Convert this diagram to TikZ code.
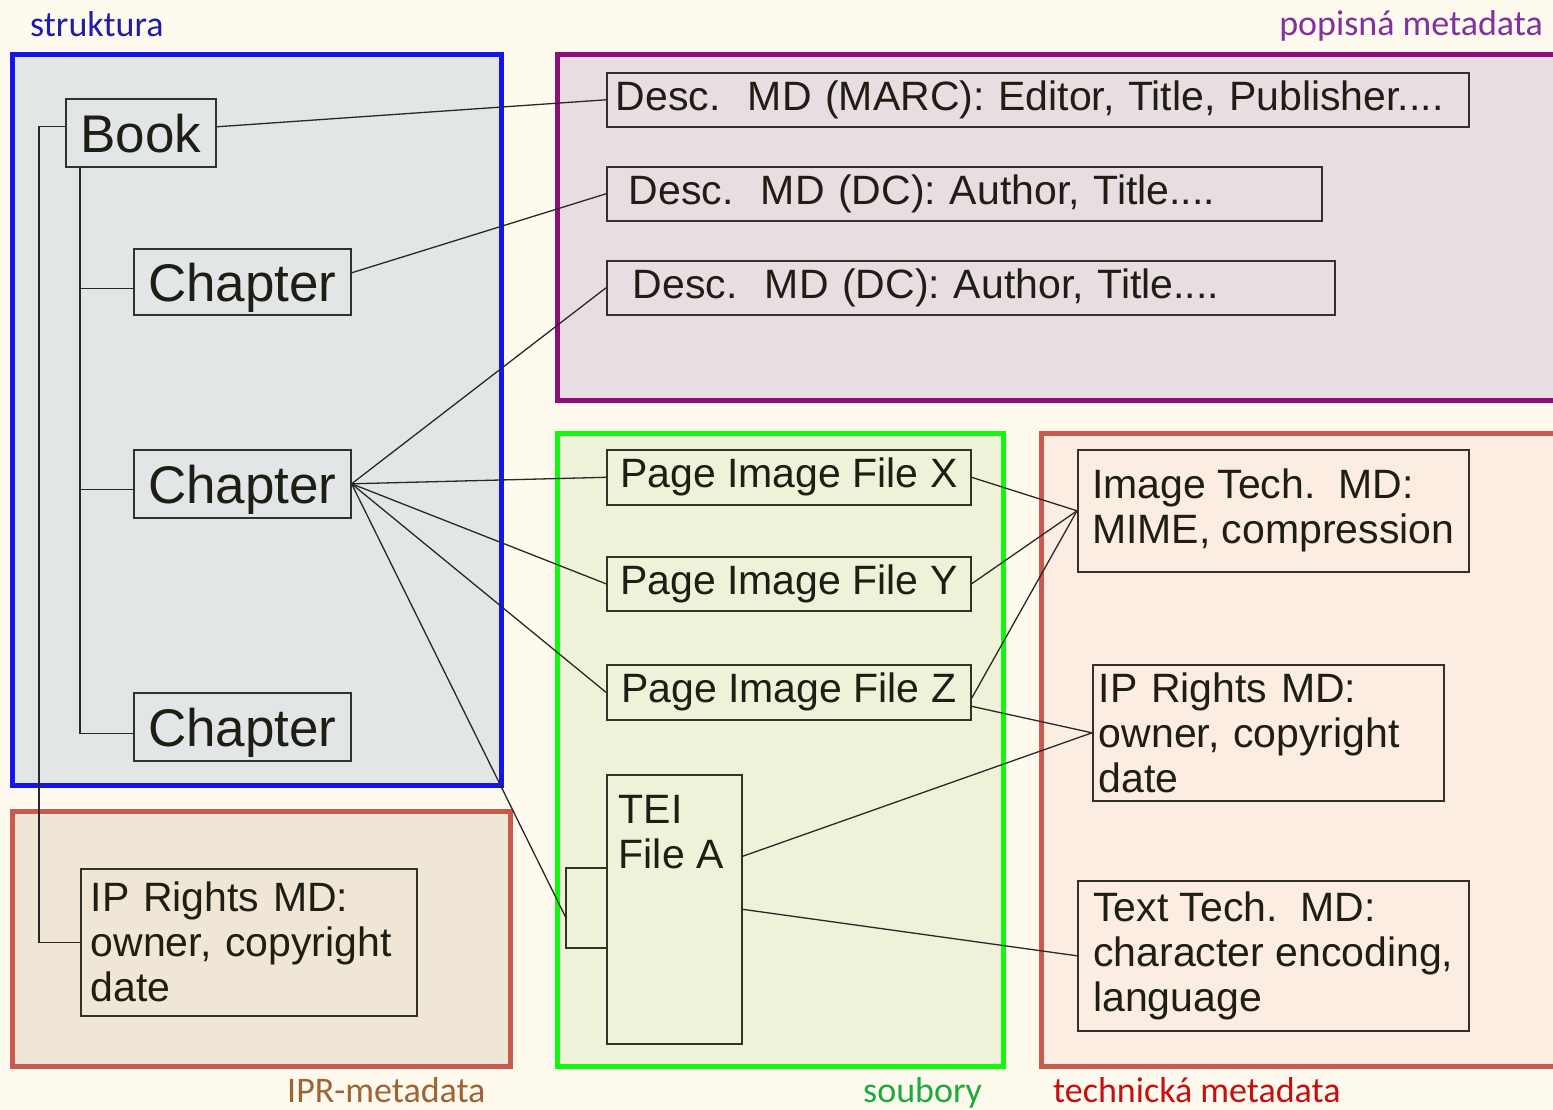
\documentclass[tikz,border=0pt]{standalone}
\usepackage{fontspec}
\setmainfont{Liberation Sans}
\newfontfamily\labelfamily{Carlito}
\usepackage{xcolor}
\definecolor{bgcream}{RGB}{254, 250, 238}
\definecolor{strukframe}{RGB}{20, 20, 235}
\definecolor{strukfill}{RGB}{226, 230, 230}
\definecolor{popisframe}{RGB}{140, 15, 120}
\definecolor{popisfill}{RGB}{232, 222, 226}
\definecolor{souborframe}{RGB}{15, 250, 10}
\definecolor{souborfill}{RGB}{238, 242, 216}
\definecolor{techframe}{RGB}{200, 90, 78}
\definecolor{techfill}{RGB}{252, 237, 226}
\definecolor{iprfill}{RGB}{240, 230, 214}
\definecolor{strukturatext}{RGB}{30, 30, 170}
\definecolor{popistext}{RGB}{128, 50, 160}
\definecolor{iprtext}{RGB}{160, 100, 50}
\definecolor{souborytext}{RGB}{30, 170, 60}
\definecolor{techtext}{RGB}{200, 15, 15}
\definecolor{boxline}{RGB}{50, 50, 40}
\definecolor{boxtext}{RGB}{30, 30, 20}
\definecolor{linkgray}{RGB}{40, 40, 40}
\newcommand{\mdtextfont}{\fontsize{41}{45}\selectfont}
\newcommand{\treefont}{\fontsize{53}{56}\selectfont}
\newcommand{\areafont}{\labelfamily\fontsize{36}{40}\selectfont}

\begin{document}
\begin{tikzpicture}[x=1pt, y=-1pt,
    area/.style={line width=5pt},
    treebox/.style={draw=boxline, line width=1.6pt, anchor=north west, font=\treefont, text=boxtext, text depth=0pt, inner sep=0pt},
    mdbox/.style={draw=boxline, line width=1.6pt, anchor=north west, align=left, font=\mdtextfont, text=boxtext, inner ysep=0pt},
    link/.style={draw=linkgray, line width=1.3pt},
    arealabel/.style={font=\areafont, inner sep=0pt}]
    \useasboundingbox (0,0) rectangle (1553,1110);
    \fill[bgcream] (0,0) rectangle (1553,1110);

    % areas
    \filldraw[area, draw=strukframe, fill=strukfill] (12,55) rectangle (501,785);
    \filldraw[area, draw=popisframe, fill=popisfill] (557,55) rectangle (1565,400);
    \filldraw[area, draw=souborframe, fill=souborfill] (557,433) rectangle (1003,1066);
    \filldraw[area, draw=techframe, fill=techfill] (1041,433) rectangle (1565,1066);
    \filldraw[area, draw=techframe, fill=iprfill] (12,811) rectangle (510,1066);

    \node[arealabel, text=strukturatext, anchor=base west] (lstruktura) at (30,37) {struktura};
    \node[arealabel, text=popistext, anchor=base east] (lpopis) at (1543,36) {popisná metadata};
    \node[arealabel, text=iprtext, anchor=base west] (lipr) at (287,1102) {IPR-metadata};
    \node[arealabel, text=souborytext, anchor=base west] (lsoubory) at (863,1102) {soubory};
    \node[arealabel, text=techtext, anchor=base west] (ltech) at (1053,1102) {technická metadata};

    % structure
    \node[treebox, minimum width=150pt, minimum height=68pt] (book) at (65,98) {Book};
    \node[treebox, minimum width=217pt, minimum height=66pt] (chA) at (133,248) {Chapter};
    \node[treebox, minimum width=217pt, minimum height=68pt] (chB) at (133,449) {Chapter};
    \node[treebox, minimum width=217pt, minimum height=68pt] (chC) at (133,692) {Chapter};

    % descriptive metadata
    \node[mdbox, inner xsep=9pt, text width=844pt, minimum height=54pt] (marc) at (606,72) {Desc.\ \ MD (MARC): Editor, Title, Publisher....};
    \node[mdbox, inner xsep=22pt, text width=671pt, minimum height=54pt] (dcA) at (606,166) {Desc.\ \ MD (DC): Author, Title....};
    \node[mdbox, inner xsep=26pt, text width=676pt, minimum height=54pt] (dcB) at (606,260) {Desc.\ \ MD (DC): Author, Title....};

    % files
    \node[mdbox, minimum width=364pt, minimum height=55pt] (fileX) at (606,449) {Page Image File X};
    \node[mdbox, minimum width=364pt, minimum height=54pt] (fileY) at (606,556) {Page Image File Y};
    \node[mdbox, minimum width=364pt, minimum height=55pt] (fileZ) at (606,664) {Page Image File Z};
    \node[mdbox, inner xsep=12pt, inner ysep=20pt, minimum height=269pt] (tei) at (606,774) {\parbox[t][229pt][t]{111pt}{\raggedright TEI\\File A}};
    \coordinate (teitab) at (566,918);
    \draw[boxline, line width=1.6pt] (606,868) -- (566,868) -- (566,948) -- (606,948);

    % technical and rights metadata
    \node[mdbox, minimum width=391pt, minimum height=122pt] (imgtech) at (1077,449) {Image Tech.\ \ MD:\\MIME, compression};
    \node[mdbox, inner xsep=6pt, text width=339pt, minimum height=136pt] (iprR) at (1092,664) {IP Rights MD:\\owner, copyright\\date};
    \node[mdbox, minimum width=391pt, minimum height=150pt] (txttech) at (1077,880) {Text Tech.\ \ MD:\\character encoding,\\language};
    \node[mdbox, inner xsep=10pt, text width=316pt, minimum height=147pt] (iprL) at (80,868) {IP Rights MD:\\owner, copyright\\date};

    % tree
    \coordinate (trunk) at ([xshift=15pt]book.south west);
    \draw[link] (trunk) |- ([yshift=-7pt]chC.west);
    \draw[link] (trunk |- chA.west) ++(0,7) -- ([yshift=-7pt]chA.west);
    \draw[link] (trunk |- chB.west) ++(0,6) -- ([yshift=-6pt]chB.west);
    \draw[link] ([yshift=6pt]book.west) -- ++(-26,0) |- (iprL.west);

    % links
    \draw[link] ([yshift=6pt]book.east) -- (marc.west);
    \draw[link] ([yshift=9pt]chA.east) -- (dcA.west);
    \draw[link] (chB.east) -- (dcB.west);
    \draw[link] (chB.east) -- (fileX.west);
    \draw[link] (chB.east) -- (fileY.west);
    \draw[link] (chB.east) -- (fileZ.west);
    \draw[link] (chB.east) -- (teitab);
    \draw[link] (fileX.east) -- (imgtech.west);
    \draw[link] (fileY.east) -- (imgtech.west);
    \draw[link] ([yshift=-6pt]fileZ.east) -- (imgtech.west);
    \draw[link] ([yshift=-14pt]fileZ.east) -- (iprR.west);
    \draw[link] ([yshift=53pt]tei.east) -- (iprR.west);
    \draw[link] (tei.east) -- (txttech.west);
\end{tikzpicture}
\end{document}
